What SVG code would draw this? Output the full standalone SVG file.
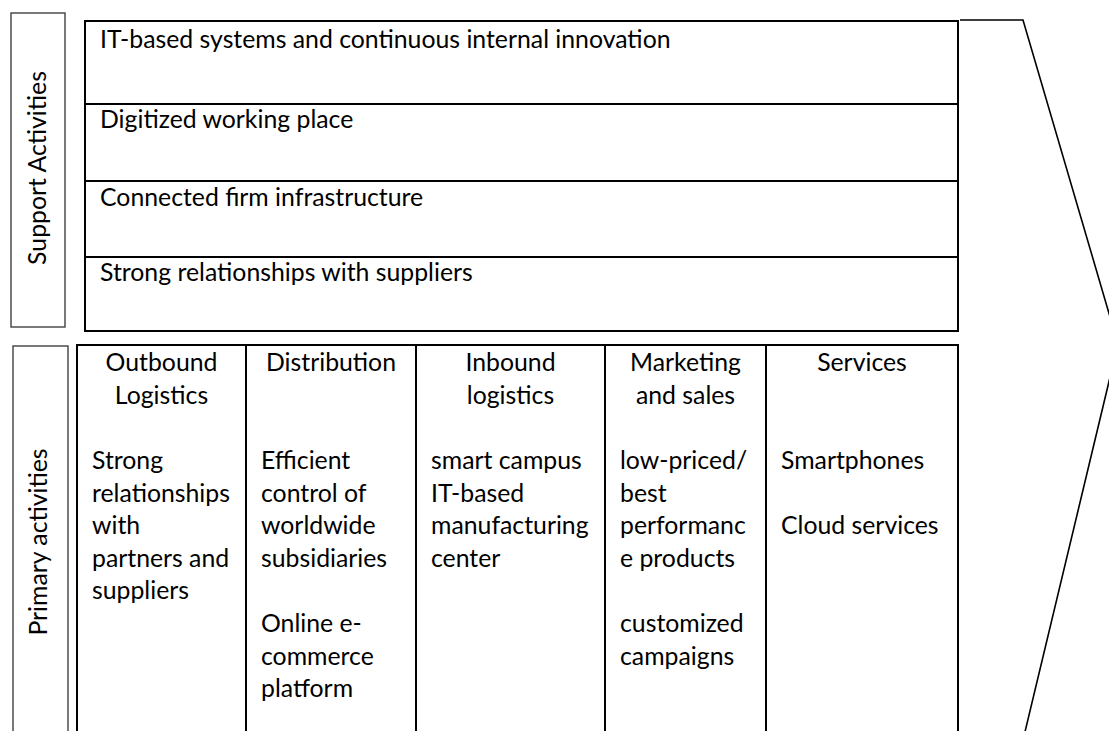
<svg xmlns="http://www.w3.org/2000/svg" width="1109" height="731" viewBox="0 0 1109 731">
<style>
  .t { font-family: Lato, "Open Sans", "Liberation Sans", sans-serif; font-size: 24.8px; fill: #000; }
  .c { text-anchor: middle; }
  .lbl { fill: #fff; stroke: #404040; stroke-width: 1.4; }
  .cell { fill: #fff; stroke: #000; stroke-width: 2; }
  .sep { stroke: #000; stroke-width: 2; fill: none; }
  .chev { fill: none; stroke: #000; stroke-width: 1.6; stroke-linejoin: miter; }
</style>
<rect width="1109" height="731" fill="#fff"/>

<g id="support-label">
  <rect class="lbl" x="11" y="13" width="54" height="314"/>
  <text class="t c" transform="translate(46,168) rotate(-90)">Support Activities</text>
</g>

<g id="support-table">
  <rect class="cell" x="85" y="21" width="873" height="310"/>
  <line class="sep" x1="85" y1="104" x2="958" y2="104"/>
  <line class="sep" x1="85" y1="181" x2="958" y2="181"/>
  <line class="sep" x1="85" y1="257" x2="958" y2="257"/>
</g>
<g id="support-row-1"><text class="t" x="100" y="48">IT-based systems and continuous internal innovation</text></g>
<g id="support-row-2"><text class="t" x="100" y="128">Digitized working place</text></g>
<g id="support-row-3"><text class="t" x="100" y="206">Connected firm infrastructure</text></g>
<g id="support-row-4"><text class="t" x="100" y="281">Strong relationships with suppliers</text></g>

<g id="primary-label">
  <rect class="lbl" x="13" y="346" width="55" height="420"/>
  <text class="t c" transform="translate(47,542) rotate(-90)">Primary activities</text>
</g>

<g id="primary-table">
  <rect class="cell" x="77" y="345" width="881" height="420"/>
  <line class="sep" x1="246" y1="345" x2="246" y2="765"/>
  <line class="sep" x1="416" y1="345" x2="416" y2="765"/>
  <line class="sep" x1="605" y1="345" x2="605" y2="765"/>
  <line class="sep" x1="766" y1="345" x2="766" y2="765"/>
</g>

<g id="col-outbound">
  <text class="t c" x="161.5" y="371">Outbound</text>
  <text class="t c" x="161.5" y="403.6">Logistics</text>
  <text class="t" x="92" y="469">Strong</text>
  <text class="t" x="92" y="501.6">relationships</text>
  <text class="t" x="92" y="534.2">with</text>
  <text class="t" x="92" y="566.8">partners and</text>
  <text class="t" x="92" y="599.4">suppliers</text>
</g>

<g id="col-distribution">
  <text class="t c" x="331" y="371">Distribution</text>
  <text class="t" x="261" y="469">Efficient</text>
  <text class="t" x="261" y="501.6">control of</text>
  <text class="t" x="261" y="534.2">worldwide</text>
  <text class="t" x="261" y="566.8">subsidiaries</text>
  <text class="t" x="261" y="632">Online e-</text>
  <text class="t" x="261" y="664.6">commerce</text>
  <text class="t" x="261" y="697.2">platform</text>
</g>

<g id="col-inbound">
  <text class="t c" x="510.5" y="371">Inbound</text>
  <text class="t c" x="510.5" y="403.6">logistics</text>
  <text class="t" x="431" y="469">smart campus</text>
  <text class="t" x="431" y="501.6">IT-based</text>
  <text class="t" x="431" y="534.2">manufacturing</text>
  <text class="t" x="431" y="566.8">center</text>
</g>

<g id="col-marketing">
  <text class="t c" x="685.5" y="371">Marketing</text>
  <text class="t c" x="685.5" y="403.6">and sales</text>
  <text class="t" x="620" y="469">low-priced/</text>
  <text class="t" x="620" y="501.6">best</text>
  <text class="t" x="620" y="534.2">performanc</text>
  <text class="t" x="620" y="566.8">e products</text>
  <text class="t" x="620" y="632">customized</text>
  <text class="t" x="620" y="664.6">campaigns</text>
</g>

<g id="col-services">
  <text class="t c" x="862" y="371">Services</text>
  <text class="t" x="781" y="469">Smartphones</text>
  <text class="t" x="781" y="534.2">Cloud services</text>
</g>

<g id="connectors">
  <polyline class="chev" points="960,20 1023,20 1118,344 1024,736"/>
</g>
</svg>
